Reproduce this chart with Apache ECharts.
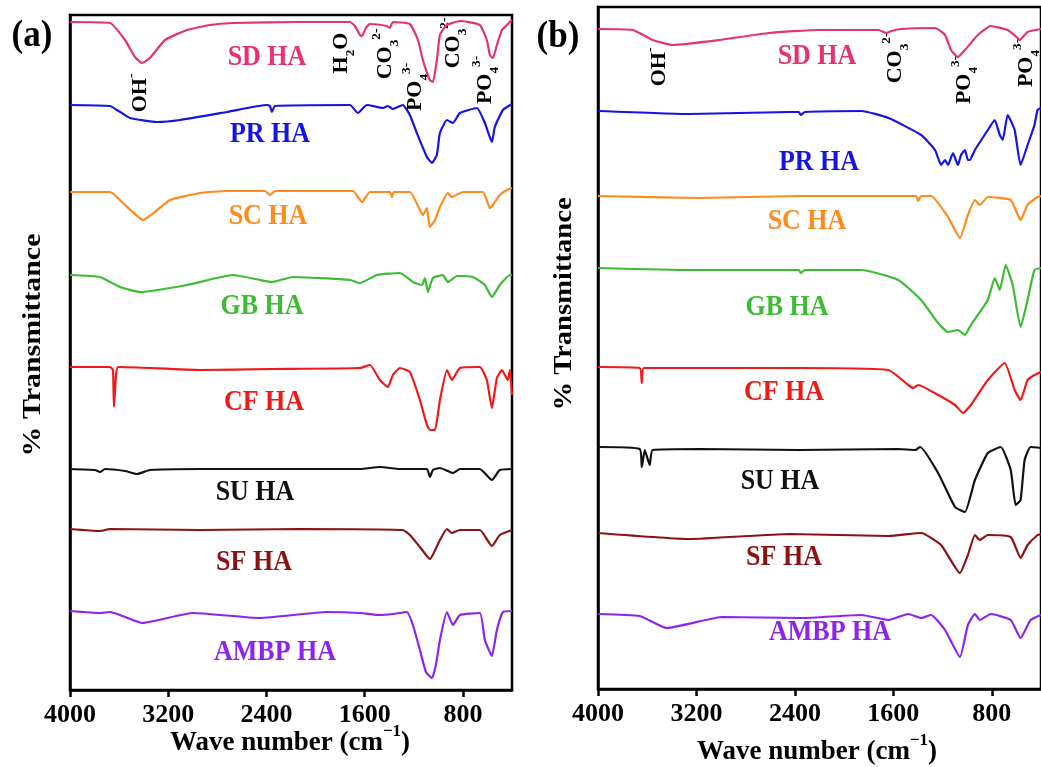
<!DOCTYPE html>
<html>
<head>
<meta charset="utf-8">
<script src="https://cdn.jsdelivr.net/npm/echarts@6/dist/echarts.min.js"></script>
<style>
html,body{margin:0;padding:0;background:#fff;}
#chart{width:1041px;height:767px;}
</style>
</head>
<body>
<div id="chart"></div>
<script>
// ---------- DATA (wavenumber cm-1, transmittance a.u. with stacking offset) ----------
const wnTicks = [4000, 3200, 2400, 1600, 800];
const seriesNames = ['SD HA', 'PR HA', 'SC HA', 'GB HA', 'CF HA', 'SU HA', 'SF HA', 'AMBP HA'];
const seriesColors = ['#E6336B', '#1414E6', '#FF8A1E', '#3DBB33', '#F21818', '#111111', '#8B1212', '#8E22EE'];

// Panel (a)
const sdA = [[4000,668],[3674,667],[3552,650],[3471,633],[3414,627],[3349,632],[3226,650],[3047,660],[2860,665],[2673,667],[2127,668],[1720,668],[1680,664],[1639,655],[1622,654],[1590,662],[1557,666],[1419,664],[1394,662],[1370,668],[1232,666],[1166,650],[1126,630],[1069,610],[1044,608],[1012,630],[987,655],[930,665],[824,669],[662,665],[605,650],[580,635],[556,632],[523,645],[482,660],[442,665],[400,670]];
const prA = [[4000,585],[3674,584],[3617,580],[3511,572],[3292,568],[3104,570],[2722,578],[2396,585],[2372,584],[2355,578],[2331,584],[1720,585],[1655,577],[1582,585],[1451,582],[1411,584],[1370,581],[1289,585],[1232,575],[1175,557],[1093,533],[1052,527],[1012,535],[987,557],[930,570],[881,567],[824,577],[686,582],[621,567],[564,548],[540,563],[474,580],[400,586]];
const scA = [[4000,498],[3674,498],[3552,485],[3406,470],[3308,478],[3186,490],[2941,497],[2722,499],[2412,499],[2372,495],[2331,499],[1696,499],[1622,488],[1557,498],[1394,498],[1378,493],[1362,498],[1232,498],[1150,480],[1126,475],[1093,482],[1069,463],[1028,470],[987,483],[922,497],[890,493],[800,498],[637,498],[580,482],[556,485],[499,495],[442,500],[400,502]];
const gbA = [[4000,415],[3756,413],[3593,403],[3430,398],[3047,405],[2673,415],[2453,410],[2355,408],[2184,413],[1720,410],[1639,407],[1500,415],[1313,417],[1207,408],[1134,405],[1109,412],[1085,398],[1044,412],[963,415],[922,408],[849,414],[719,413],[621,405],[564,393],[499,405],[417,415],[400,415]];
const cfA = [[4000,323],[3674,323],[3650,320],[3642,283],[3625,315],[3609,323],[2941,320],[2372,321],[1639,322],[1557,325],[1476,310],[1411,303],[1370,315],[1313,322],[1232,318],[1150,290],[1093,265],[1069,260],[1028,260],[987,290],[930,320],[890,310],[824,322],[662,323],[605,310],[564,282],[523,312],[482,320],[434,310],[417,320],[400,295]];
const suA = [[4000,221],[3796,220],[3756,218],[3715,221],[3552,219],[3454,216],[3349,220],[2941,221],[1639,221],[1476,223],[1313,221],[1093,221],[1069,213],[1044,220],[987,222],[881,217],[824,221],[662,221],[564,210],[499,220],[400,221]];
const sfA = [[4000,161],[3756,159],[3674,161],[2941,160],[2127,161],[1289,160],[1232,155],[1150,143],[1069,131],[987,150],[930,161],[890,157],[824,160],[662,160],[564,144],[499,155],[400,160]];
const ambpA = [[4000,79],[3756,77],[3674,78],[3593,75],[3414,67],[2998,77],[2453,72],[1907,78],[1639,77],[1476,75],[1370,76],[1256,78],[1207,65],[1150,40],[1101,18],[1052,12],[1020,25],[987,50],[930,78],[881,65],[824,75],[662,77],[621,50],[564,34],[523,60],[474,78],[400,79]];

// Panel (b)
const sdB = [[4000,660],[3717,659],[3556,649],[3394,644],[3014,649],[2610,656],[2206,659],[1721,659],[1657,656],[1616,658],[1535,660],[1261,661],[1180,654],[1131,639],[1075,632],[1018,639],[913,654],[808,663],[671,659],[590,651],[574,649],[509,657],[400,660]];
const prB = [[4000,578],[3257,575],[2448,577],[2368,577],[2352,574],[2319,577],[1859,578],[1640,571],[1374,554],[1261,539],[1212,524],[1180,529],[1156,524],[1115,536],[1075,524],[1050,534],[1018,539],[994,529],[978,529],[937,539],[832,559],[776,569],[735,554],[711,549],[671,574],[614,559],[566,524],[509,544],[453,564],[428,579],[400,581]];
const scB = [[4000,493],[3176,491],[2368,493],[1640,493],[1414,493],[1398,488],[1374,493],[1293,493],[1156,472],[1059,451],[994,474],[937,489],[897,484],[832,492],[646,489],[566,469],[509,484],[428,492],[400,493]];
const gbB = [[4000,421],[3257,419],[2368,419],[2352,416],[2319,419],[1859,419],[1560,409],[1374,389],[1236,366],[1156,357],[1075,359],[1018,354],[970,364],[832,389],[776,411],[735,399],[687,424],[630,404],[566,362],[509,389],[453,419],[400,421]];
const cfB = [[4000,322],[3661,321],[3644,306],[3628,321],[2368,321],[1640,319],[1479,304],[1439,301],[1398,304],[1236,294],[1099,284],[1034,276],[970,284],[832,309],[695,326],[614,299],[566,289],[509,309],[453,314],[400,317]];
const suB = [[4000,242],[3661,240],[3644,222],[3620,239],[3580,224],[3556,239],[3176,240],[2368,239],[1560,240],[1422,239],[1382,242],[1236,216],[1099,182],[1018,177],[937,209],[832,236],[727,242],[646,219],[606,184],[566,189],[533,229],[485,242],[400,241]];
const sfB = [[4000,156],[3257,150],[2448,155],[1640,153],[1374,156],[1212,144],[1059,116],[994,134],[937,154],[897,149],[832,154],[646,152],[566,131],[509,144],[428,154],[400,155]];
const ambpB = [[4000,75],[3661,73],[3442,61],[2990,72],[2343,71],[1859,74],[1640,69],[1479,75],[1374,71],[1293,74],[1180,59],[1059,32],[994,64],[937,75],[897,69],[808,75],[646,69],[566,51],[485,69],[400,74]];

const panelA = [sdA, prA, scA, gbA, cfA, suA, sfA, ambpA];
const panelB = [sdB, prB, scB, gbB, cfB, suB, sfB, ambpB];

// ---------- CHART ----------
const FONT = '"Liberation Serif", "Times New Roman", serif';
const chart = echarts.init(document.getElementById('chart'), null, {renderer: 'canvas'});

function xAxisCfg(gi) {
  return {
    gridIndex: gi, type: 'value', min: 400, max: 4000, inverse: true,
    axisLine: {show: true, onZero: false, lineStyle: {color: '#000', width: 2.5}},
    axisTick: {show: true, inside: false, length: 7, lineStyle: {color: '#000', width: 2.5}, customValues: wnTicks},
    axisLabel: {customValues: wnTicks, formatter: v => String(v), fontSize: 26, fontWeight: 'bold', fontFamily: FONT, color: '#000', margin: 12},
    splitLine: {show: false}
  };
}
function yAxisCfg(gi, max) {
  return {
    gridIndex: gi, type: 'value', min: 0, max: max,
    axisLine: {show: true, lineStyle: {color: '#000', width: 2.5}},
    axisTick: {show: false}, axisLabel: {show: false}, splitLine: {show: false}
  };
}

const series = [];
[panelA, panelB].forEach((panel, gi) => {
  panel.forEach((d, i) => {
    series.push({
      type: 'line', xAxisIndex: gi, yAxisIndex: gi, data: d,
      showSymbol: false, smooth: 0.15, name: seriesNames[i],
      lineStyle: {color: seriesColors[i], width: 2.2}, itemStyle: {color: seriesColors[i]},
      silent: true
    });
  });
});

// text helpers
function richStyles(size) {
  const s = Math.round(size * 0.62);
  return {
    sup: {fontSize: s, fontWeight: 'bold', fontFamily: FONT, fill: '#000', verticalAlign: 'top', lineHeight: s},
    sub: {fontSize: s, fontWeight: 'bold', fontFamily: FONT, fill: '#000', verticalAlign: 'bottom', lineHeight: s}
  };
}
function txt(x, y, text, o) {
  o = o || {};
  const size = o.size || 26;
  return {
    type: 'text', x: x, y: y, rotation: o.rot || 0, scaleX: o.sx || 1, scaleY: o.sy || 1, silent: true,
    style: {
      text: text, fontSize: size, fontWeight: 'bold', fontFamily: FONT, fill: o.color || '#000',
      align: 'center', verticalAlign: 'middle', lineHeight: o.lh || size * 1.2, rich: richStyles(size)
    }
  };
}

const labelPosA = [[267,57],[270,134],[268,216],[262,306],[264,402],[255,492],[254,562],[275,652]];
const labelPosB = [[817,56],[819,162],[807,221],[787,307],[784,392],[780,481],[784,557],[830,632]];

const graphics = [];
labelPosA.forEach((p, i) => graphics.push(txt(p[0], p[1], seriesNames[i], {color: seriesColors[i], sy: 1.15})));
labelPosB.forEach((p, i) => graphics.push(txt(p[0], p[1], seriesNames[i], {color: seriesColors[i], sy: 1.15})));

const R = Math.PI / 2;
const OH = 'OH{sup|-}', H2O = 'H{sub|2}O', CO3 = 'CO{sub|3}{sup|2-}', PO4 = 'PO{sub|4}{sup|3-}';
const annA = [[141,93,OH],[342,53,H2O],[386,54,CO3],[416,87,PO4],[454,43,CO3],[486,80,PO4]];
const annB = [[660,67,OH],[896,58,CO3],[965,80,PO4],[1027,63,PO4]];
annA.concat(annB).forEach(a => graphics.push(txt(a[0], a[1], a[2], {size: 20, rot: R, sx: 1.1, lh: 30})));

// panel letters, axis titles
graphics.push(txt(32, 36, '(a)', {size: 35, sy: 1.1}));
graphics.push(txt(558, 37, '(b)', {size: 35, sy: 1.1}));
graphics.push(txt(290, 743, 'Wave number (cm{sup|−1})', {size: 27, lh: 40}));
graphics.push(txt(817, 752, 'Wave number (cm{sup|−1})', {size: 27, lh: 40}));
graphics.push(txt(33, 345, '% Transmittance', {size: 26, rot: R, sx: 1.15}));
graphics.push(txt(564, 304, '% Transmittance', {size: 26, rot: R, sx: 1.1}));

chart.setOption({
  animation: false,
  backgroundColor: '#fff',
  grid: [
    {left: 70, top: 15, width: 442, height: 675, show: true, borderColor: '#000', borderWidth: 2.5, backgroundColor: 'transparent'},
    {left: 598, top: 7, width: 445, height: 682, show: true, borderColor: '#000', borderWidth: 2.5, backgroundColor: 'transparent'}
  ],
  xAxis: [xAxisCfg(0), xAxisCfg(1)],
  yAxis: [yAxisCfg(0, 675), yAxisCfg(1, 682)],
  series: series,
  graphic: graphics
});
</script>
</body>
</html>
